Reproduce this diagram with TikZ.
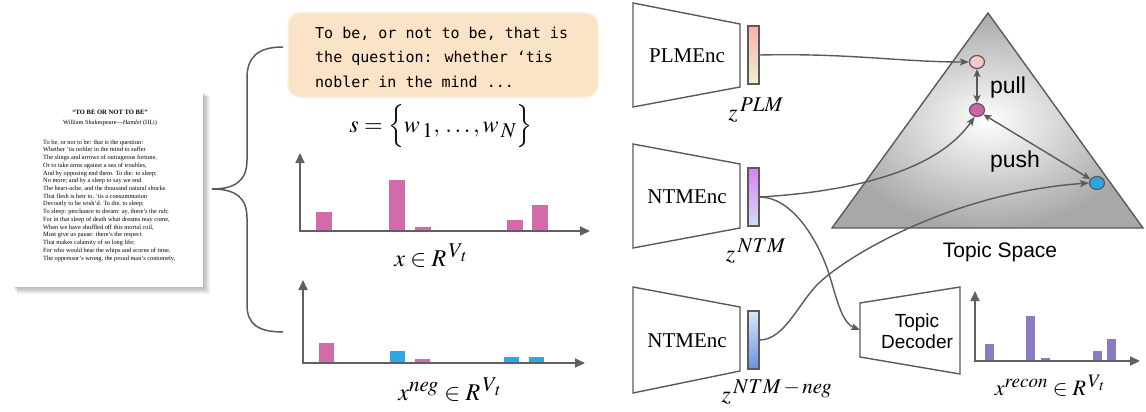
\documentclass[tikz,border=0pt]{standalone}
\usepackage{mathptmx}
\usepackage{fontspec}
\setmainfont{Liberation Serif}
\newfontfamily\arialf{Liberation Sans}
\newfontfamily\monof{DejaVu Sans Mono}
\DeclareMathSizes{24}{24}{21}{17}
\DeclareMathSizes{22}{22}{19}{15}
\usetikzlibrary{arrows.meta,shapes.geometric}
\definecolor{lg}{HTML}{5A5A5A}
\definecolor{axg}{HTML}{606060}
\definecolor{pinkbar}{HTML}{D36BAA}
\definecolor{bluebar}{HTML}{2FA6E5}
\definecolor{purpbar}{HTML}{8B7BC3}
\definecolor{bubfill}{HTML}{FBE3C7}
\definecolor{bubedge}{HTML}{FDEEDC}
\definecolor{dotpink}{HTML}{F4C8C8}
\definecolor{dotmag}{HTML}{D062A9}
\definecolor{dotblue}{HTML}{2FA4E4}
\definecolor{plmtop}{HTML}{F7B2AE}
\definecolor{plmbot}{HTML}{ECF1D2}
\definecolor{ntmtop}{HTML}{DA82EE}
\definecolor{ntmbot}{HTML}{D4DCF8}
\definecolor{negtop}{HTML}{DCE6F8}
\definecolor{negbot}{HTML}{6A92E0}
\begin{document}
\begin{tikzpicture}[x=1pt,y=-1pt,
  conn/.style={draw=lg, line width=1.4pt, -{Stealth[length=9pt,width=7pt,inset=2pt]}},
  dconn/.style={draw=lg, line width=1.4pt, {Stealth[length=8pt,width=7pt,inset=2pt]}-{Stealth[length=8pt,width=7pt,inset=2pt]}},
  encbox/.style={draw=lg, line width=1.4pt, fill=white},
  vecbar/.style={draw=lg, line width=1.4pt, minimum width=11pt, minimum height=58pt, inner sep=0pt},
  axisline/.style={draw=axg, line width=2pt, {Triangle[length=10pt,width=9pt]}-{Triangle[length=10pt,width=9pt]}},
  topicdot/.style={ellipse, draw=lg, line width=1.2pt, minimum width=15pt, minimum height=13pt, inner sep=0pt},
  bubble/.style={rounded corners=12pt, fill=bubfill, draw=bubedge, line width=1.5pt},
  enclabel/.style={font=\fontsize{21}{24}\selectfont, anchor=base},
  sanslabel/.style={font=\arialf\fontsize{21}{24}\selectfont, anchor=base},
  mathlabel/.style={font=\fontsize{24}{27}\selectfont, inner sep=0pt}
]
\useasboundingbox (0,0) rectangle (1146,412);

% ---------------- document page ----------------
\foreach \s in {1,...,7}{
  \fill[black, opacity=0.045] (13+\s*0.6, 92+\s*0.6) rectangle (203+\s, 287+\s);
}
\fill[white] (13,92) rectangle (203,287);
\node[font=\bfseries\fontsize{6.6}{7}\selectfont] (ptitle) at (110,112) {“TO BE OR NOT TO BE”};
\node[font=\fontsize{6.3}{7}\selectfont] (psub) at (110,123) {William Shakespeare—\textit{Hamlet} (III,i)};
\node[font=\fontsize{6.35}{7.73}\selectfont, align=left, anchor=north west, inner sep=0pt] (poem) at (43,139.5) {%
To be, or not to be: that is the question:\\
Whether ’tis nobler in the mind to suffer\\
The slings and arrows of outrageous fortune,\\
Or to take arms against a sea of troubles,\\
And by opposing end them. To die: to sleep;\\
No more; and by a sleep to say we end\\
The heart-ache, and the thousand natural shocks\\
That flesh is heir to, ’tis a consummation\\
Devoutly to be wish’d. To die, to sleep;\\
To sleep: perchance to dream: ay, there’s the rub;\\
For in that sleep of death what dreams may come,\\
When we have shuffled off this mortal coil,\\
Must give us pause: there’s the respect\\
That makes calamity of so long life;\\
For who would bear the whips and scorns of time,\\
The oppressor’s wrong, the proud man’s contumely,};

% ---------------- brace ----------------
\draw[lg, line width=1.5pt] (283,47) .. controls (258,47) and (247,57) .. (247,78) -- (247,160)
  .. controls (247,180) and (236,189) .. (212,189)
  .. controls (236,189) and (247,198) .. (247,218) -- (247,305)
  .. controls (247,324) and (258,332) .. (283,332);

% ---------------- bubble ----------------
\draw[bubble] (288,13) rectangle (598,97);
\node[align=left, anchor=north west, inner sep=0pt,
  font=\monof\fontsize{15}{24.5}\selectfont] (bub) at (315,26.5)
  {To be, or not to be, that is\\the question: whether ‘tis\\nobler in the mind ...};
\node[mathlabel] (slab) at (441,126) {$s=\Bigl\{w_{\,1},\,\ldots,w_{\,N}\Bigr\}$};

% ---------------- chart x ----------------
\fill[pinkbar] (316,212) rectangle (332,231);
\fill[pinkbar] (389,180) rectangle (405,231);
\fill[pinkbar] (415,227) rectangle (431,231);
\fill[pinkbar] (507,220) rectangle (523,231);
\fill[pinkbar] (532,205) rectangle (548,231);
\draw[axisline] (300,153) -- (300,231) -- (590,231);
\node[mathlabel] (xlab) at (431,256) {$x\in R^{\,V_{\,t}}$};

% ---------------- chart x neg ----------------
\fill[pinkbar] (319,343) rectangle (334,363);
\fill[bluebar] (390,351) rectangle (405,363);
\fill[pinkbar] (415,359) rectangle (430,363);
\fill[bluebar] (504,357) rectangle (519,363);
\fill[bluebar] (529,357) rectangle (544,363);
\draw[axisline] (303,280) -- (303,363) -- (585,363);
\node[mathlabel] (xneglab) at (450,390) {$x^{neg}\in R^{\,V_{\,t}}$};

% ---------------- encoders ----------------
\draw[encbox] (633,3) -- (740,24) -- (740,87) -- (633,107) -- cycle;
\node[enclabel] (plmenc) at (687,63) {PLMEnc};
\draw[encbox] (633,144) -- (740,164) -- (740,228) -- (633,248) -- cycle;
\node[enclabel] (ntmenc) at (687,203) {NTMEnc};
\draw[encbox] (633,287) -- (740,307) -- (740,371) -- (633,393) -- cycle;
\node[enclabel] (negenc) at (687,347) {NTMEnc};

\node[vecbar, top color=plmtop, bottom color=plmbot] (barP) at (753.5,55) {};
\node[vecbar, top color=ntmtop, bottom color=ntmbot] (barN) at (753.5,197) {};
\node[vecbar, top color=negtop, bottom color=negbot] (barNeg) at (753.5,340) {};
\node[mathlabel] (zP) at (756,110) {$z^{\,PLM}$};
\node[mathlabel] (zN) at (756,251) {$z^{\,NTM}$};
\node[mathlabel] (zNeg) at (777,392) {$z^{\,NTM\,-\,neg}$};

% ---------------- topic space ----------------
\shade[draw=lg, line width=1.4pt, inner color=white, outer color=gray!68] (988,13) -- (832,228) -- (1143,228) -- cycle;
\node[sanslabel] (tslab) at (1000,257) {Topic Space};
\node[topicdot, fill=dotpink] (d1) at (977,62) {};
\node[topicdot, fill=dotmag] (d2) at (977,110) {};
\node[topicdot, fill=dotblue] (d3) at (1097,183) {};
\draw[dconn] (d1.south) -- (d2.north);
\draw[dconn] (d2.-35) -- (d3.150);
\node[sanslabel, font=\arialf\fontsize{23}{26}\selectfont] (pull) at (1008,93) {pull};
\node[sanslabel, font=\arialf\fontsize{23}{26}\selectfont] (push) at (1015,167) {push};

% ---------------- decoder ----------------
\draw[encbox] (860,303) -- (960,287) -- (960,374) -- (860,357) -- cycle;
\node[sanslabel, font=\arialf\fontsize{19}{21}\selectfont, align=center, anchor=center] (dec) at (917,331) {Topic\\Decoder};
\coordinate (decin) at (860,330);

% ---------------- recon chart ----------------
\fill[purpbar] (985,344) rectangle (994,361);
\fill[purpbar] (1026,316) rectangle (1035,361);
\fill[purpbar] (1041,358) rectangle (1050,361);
\fill[purpbar] (1093,351) rectangle (1102,361);
\fill[purpbar] (1107,339) rectangle (1116,361);
\draw[axisline] (975,291) -- (975,361) -- (1140,361);
\node[mathlabel, font=\fontsize{22}{25}\selectfont] (xreclab) at (1050,386) {$x^{recon}\in R^{\,V_{\,t}}$};

% ---------------- connectors ----------------
\coordinate (c1) at (827,268);
\coordinate (c2) at (820,282);
\draw[conn] (barP.east) .. controls (850,53) and (900,62) .. (d1.west);
\draw[conn] (barN.east) .. controls (880,190) and (945,160) .. (d2.250);
\draw[conn] (barN.east) .. controls (790,197) and (815,235) .. (c1) .. controls (835,290) and (840,322) .. (decin);
\draw[conn] (barNeg.east) .. controls (785,340) and (800,300) .. (c2) .. controls (855,250) and (960,192) .. (d3.west);
\end{tikzpicture}
\end{document}
